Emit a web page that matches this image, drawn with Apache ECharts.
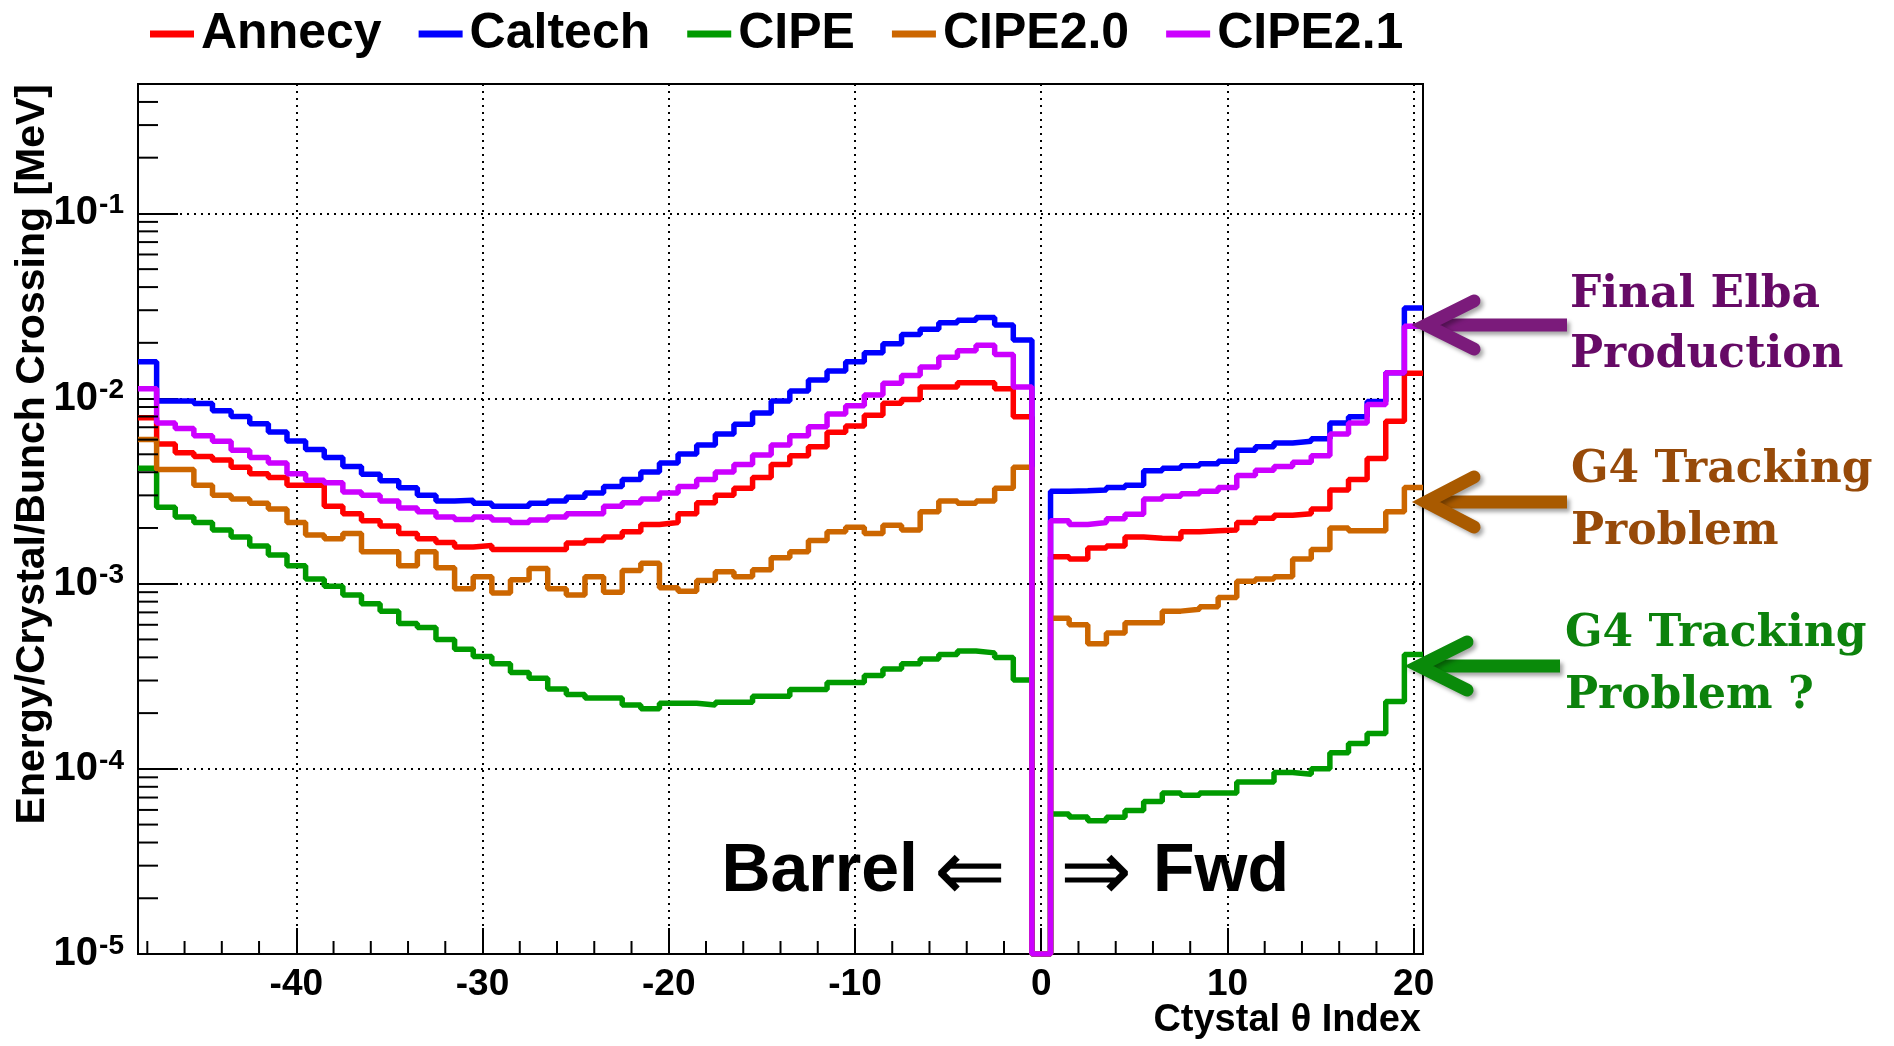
<!DOCTYPE html>
<html><head><meta charset="utf-8">
<script src="https://cdn.jsdelivr.net/npm/echarts@6/dist/echarts.min.js"></script>
<style>html,body{margin:0;padding:0;background:#fff}#c{width:1894px;height:1046px}</style>
</head><body><div id="c"></div>
<script>
// Crystal theta index (bin centres)
const crystalIndex = [-48,-47,-46,-45,-44,-43,-42,-41,-40,-39,-38,-37,-36,-35,-34,-33,-32,-31,-30,-29,-28,-27,-26,-25,-24,-23,-22,-21,-20,-19,-18,-17,-16,-15,-14,-13,-12,-11,-10,-9,-8,-7,-6,-5,-4,-3,-2,-1,0,1,2,3,4,5,6,7,8,9,10,11,12,13,14,15,16,17,18,19,20];

const annecy = [0.00787,0.00568,0.00509,0.00487,0.00466,0.00426,0.00393,0.00375,0.00340,0.00340,0.00262,0.00239,0.00219,0.00205,0.00187,0.00175,0.00167,0.00158,0.00161,0.00153,0.00153,0.00153,0.00153,0.00166,0.00171,0.00179,0.00191,0.00209,0.00214,0.00239,0.00274,0.00300,0.00328,0.00375,0.00440,0.00491,0.00549,0.00658,0.00711,0.00813,0.00944,0.00987,0.01155,0.01155,0.01219,0.01219,0.0113,0.00798,0,0.0014,0.00136,0.00156,0.0016,0.00179,0.00176,0.00175,0.00191,0.00193,0.00195,0.00214,0.00226,0.00234,0.00239,0.00253,0.00321,0.00366,0.00474,0.00754,0.0137];

const caltech = [0.0158,0.0097,0.0097,0.0094,0.0086,0.0080,0.0073,0.0066,0.0059,0.0053,0.0048,0.0043,0.0039,0.0036,0.0033,0.0030,0.0028,0.00282,0.00272,0.00262,0.00262,0.00272,0.0028,0.00293,0.00309,0.00335,0.00366,0.00401,0.00449,0.00502,0.00562,0.00644,0.00727,0.00835,0.0097,0.0110,0.0126,0.0141,0.0158,0.0177,0.0198,0.0222,0.0237,0.0257,0.0265,0.0274,0.0250,0.0207,0,0.00316,0.00318,0.00321,0.00331,0.0034,0.00407,0.0042,0.00433,0.00445,0.00459,0.00526,0.00549,0.00575,0.00588,0.00607,0.00737,0.00798,0.00965,0.0138,0.0308];

const cipe = [0.0042,0.00259,0.00229,0.00214,0.00195,0.00179,0.00160,0.00143,0.00125,0.00106,0.00097,0.00087,0.00078,0.00071,0.00061,0.00058,0.00050,0.000443,0.000405,0.000370,0.000331,0.000309,0.000270,0.000252,0.000241,0.000241,0.000221,0.000211,0.000226,0.000226,0.000221,0.000229,0.000229,0.000247,0.000247,0.000268,0.000268,0.000293,0.000293,0.000319,0.000346,0.000370,0.000392,0.000414,0.000433,0.000423,0.000400,0.000302,0,0.000057,0.000055,0.0000525,0.0000548,0.0000595,0.0000667,0.000074,0.000072,0.000074,0.000074,0.000085,0.000085,0.0000955,0.0000935,0.000100,0.000122,0.000137,0.000155,0.000231,0.000415];

const cipe20 = [0.00601,0.00414,0.00414,0.00340,0.00300,0.00287,0.00272,0.00253,0.00214,0.00183,0.00175,0.00187,0.00149,0.00149,0.00125,0.00149,0.00122,0.00094,0.00109,0.00089,0.00105,0.00121,0.00094,0.00087,0.00109,0.00090,0.00118,0.00129,0.00095,0.00091,0.00104,0.00116,0.00109,0.00119,0.00138,0.00149,0.00171,0.00191,0.00202,0.00187,0.00207,0.00195,0.00245,0.00280,0.00272,0.00280,0.00328,0.00426,0,0.00065,0.00060,0.000474,0.000542,0.000615,0.000615,0.000711,0.000727,0.00075,0.000843,0.00103,0.00106,0.00109,0.00136,0.00153,0.0020,0.00193,0.00193,0.00245,0.00331];

const cipe21 = [0.0113,0.00737,0.00689,0.00629,0.00588,0.00526,0.00481,0.00449,0.00393,0.00362,0.00351,0.00313,0.00300,0.00280,0.00256,0.00245,0.00229,0.00222,0.00229,0.00221,0.00214,0.00221,0.00229,0.00239,0.00239,0.00262,0.00274,0.00287,0.00309,0.00335,0.00366,0.00401,0.00440,0.00496,0.00562,0.00629,0.00705,0.00824,0.00914,0.01046,0.01208,0.01334,0.01479,0.0167,0.0181,0.0194,0.0173,0.01155,0,0.00219,0.00209,0.00214,0.00224,0.00237,0.00287,0.00297,0.00306,0.00316,0.00331,0.00384,0.0041,0.0043,0.00453,0.00491,0.00644,0.00737,0.0093,0.0138,0.0246];

const seriesNames = ['Annecy','Caltech','CIPE','CIPE2.0','CIPE2.1'];
const seriesColors = ['#ff0000','#0000ff','#009a00','#cc6600','#cc00ff'];
const xTickLabels = [-40,-30,-20,-10,0,10,20];
const yTickLabels = [1e-5,1e-4,1e-3,1e-2,1e-1];

const X_MIN = -48.5, X_MAX = 20.5, Y_MIN = 1e-5, Y_MAX = 0.5;
const FONT = '"Liberation Sans", Arial, Helvetica, sans-serif';

function histPath(vals){
  const pts = crystalIndex.map((c,i)=>[c-0.5, vals[i] > 0 ? vals[i] : Y_MIN]);
  const last = crystalIndex.length-1;
  pts.push([crystalIndex[last]+0.5, vals[last] > 0 ? vals[last] : Y_MIN]);
  return pts;
}

// minor tick positions (axis decoration)
const minorTicks = [];
for (let e=-5; e<=-1; e++) for (let k=2; k<=9; k++){ const v = k*Math.pow(10,e); if (v<=Y_MAX+1e-12) minorTicks.push([0, v]); }
for (let x=-48; x<=20; x+=2){ if (x % 10 !== 0) minorTicks.push([1, x]); }

const allData = [annecy, caltech, cipe, cipe20, cipe21];
const series = allData.map((d,i)=>({
  name: seriesNames[i], type:'line', step:'end', data: histPath(d),
  showSymbol:false, symbol:'none', color: seriesColors[i],
  lineStyle:{color: seriesColors[i], width:5.5}, z: 3+i, animation:false
}));
series.push({
  type:'custom', silent:true, z:10, data: minorTicks, clip:false,
  renderItem(params, api){
    const kind = api.value(0), v = api.value(1);
    if (kind === 0){
      const p = api.coord([X_MIN, v]);
      return {type:'line', shape:{x1:p[0], y1:p[1], x2:p[0]+20, y2:p[1]}, style:{stroke:'#000', lineWidth:2}};
    }
    const p = api.coord([v, Y_MIN]);
    return {type:'line', shape:{x1:p[0], y1:p[1], x2:p[0], y2:p[1]-13}, style:{stroke:'#000', lineWidth:2}};
  }
});

function isDecade(v){ const l = Math.log10(v); return Math.abs(l-Math.round(l))<1e-6 && yTickLabels.some(t=>Math.abs(Math.log10(t)-l)<1e-6); }

const chart = echarts.init(document.getElementById('c'), null, {renderer:'canvas'});
const annoFont = '"DejaVu Serif", serif';
function arrow(tipX, tipY, tailX, headX, headDy, color){
  const sh = {shadowBlur:4, shadowOffsetX:3, shadowOffsetY:3, shadowColor:'rgba(0,0,0,0.35)'};
  return [
    {type:'line', z:100, shape:{x1:tailX, y1:tipY, x2:tipX+6, y2:tipY}, style:Object.assign({stroke:color, lineWidth:13, lineCap:'butt'}, sh)},
    {type:'polyline', z:100, shape:{points:[[headX, tipY-headDy],[tipX, tipY],[headX, tipY+headDy]]}, style:Object.assign({stroke:color, fill:null, lineWidth:13, lineCap:'round', lineJoin:'miter'}, sh)}
  ];
}
function label(x, y, text, color){
  return {type:'text', z:100, x:x, y:y, style:{text:text, fill:color, font:'bold 44px '+annoFont, align:'left', verticalAlign:'middle'}};
}

chart.setOption({
  animation:false,
  backgroundColor:'#fff',
  grid:{left:138, right:471, top:84, bottom:92, show:true, borderColor:'#000', borderWidth:2, containLabel:false, outerBoundsMode:'none'},
  legend:{
    data: seriesNames, left:145, top:4, icon:'rect', itemWidth:44, itemHeight:7, itemGap:37,
    textStyle:{fontFamily:FONT, fontWeight:'bold', fontSize:50, color:'#000', padding:[0,0,0,2]}
  },
  xAxis:{
    type:'value', min:X_MIN, max:X_MAX,
    axisLine:{show:true, onZero:false, lineStyle:{color:'#000', width:2}},
    axisTick:{show:true, inside:true, length:26, lineStyle:{color:'#000', width:2}},
    splitLine:{show:true, lineStyle:{color:'#000', width:2, type:[2,5]}},
    axisLabel:{margin:12, fontFamily:FONT, fontWeight:'bold', fontSize:37, color:'#000',
      formatter: v => xTickLabels.indexOf(Math.round(v*1000)/1000) >= 0 ? String(v) : ''}
  },
  yAxis:{
    type:'log', logBase:10, min:Y_MIN, max:Y_MAX,
    axisLine:{show:true, onZero:false, lineStyle:{color:'#000', width:2}},
    axisTick:{show:true, inside:true, length:40, lineStyle:{color:'#000', width:2}},
    splitLine:{show:true, lineStyle:{color:'#000', width:2, type:[2,5]}},
    axisLabel:{margin:14, color:'#000',
      formatter: v => isDecade(v) ? '{b|10}{s|' + Math.round(Math.log10(v)) + '}' : '',
      rich:{
        b:{fontFamily:FONT, fontWeight:'bold', fontSize:40, color:'#000', lineHeight:44},
        s:{fontFamily:FONT, fontWeight:'bold', fontSize:28, color:'#000', verticalAlign:'top', lineHeight:44, padding:[0,0,10,1]}
      }}
  },
  series: series,
  graphic:[
    {type:'text', z:100, x:33, y:84, rotation:Math.PI/2,
      style:{text:'Energy/Crystal/Bunch Crossing [MeV]', fill:'#000', font:'bold 41px '+FONT, align:'right', verticalAlign:'middle'}},
    {type:'text', z:100, x:1421, y:1021,
      style:{text:'Ctystal θ Index', fill:'#000', font:'bold 38px '+FONT, align:'right', verticalAlign:'middle'}},
    {type:'text', z:100, x:918, y:872, style:{text:'Barrel', fill:'#000', font:'bold 68px '+FONT, align:'right', verticalAlign:'middle'}},
    {type:'text', z:100, x:970, y:878, style:{text:'⇐', fill:'#000', font:'200 86px "DejaVu Sans", sans-serif', align:'center', verticalAlign:'middle'}},
    {type:'text', z:100, x:1096, y:878, style:{text:'⇒', fill:'#000', font:'200 86px "DejaVu Sans", sans-serif', align:'center', verticalAlign:'middle'}},
    {type:'text', z:100, x:1153, y:872, style:{text:'Fwd', fill:'#000', font:'bold 68px '+FONT, align:'left', verticalAlign:'middle'}},
    ...arrow(1426, 325, 1567, 1474, 24, '#7b1b7b'),
    ...arrow(1426, 502, 1567, 1474, 25, '#a95a00'),
    ...arrow(1419, 666, 1560, 1467, 24, '#0a8a0a'),
    label(1570, 296, 'Final Elba', '#660a66'),
    label(1570, 356, 'Production', '#660a66'),
    label(1571, 471, 'G4 Tracking', '#974a09'),
    label(1571, 533, 'Problem', '#974a09'),
    label(1565, 635, 'G4 Tracking', '#0c820c'),
    label(1565, 697, 'Problem ?', '#0c820c')
  ]
});
</script></body></html>
